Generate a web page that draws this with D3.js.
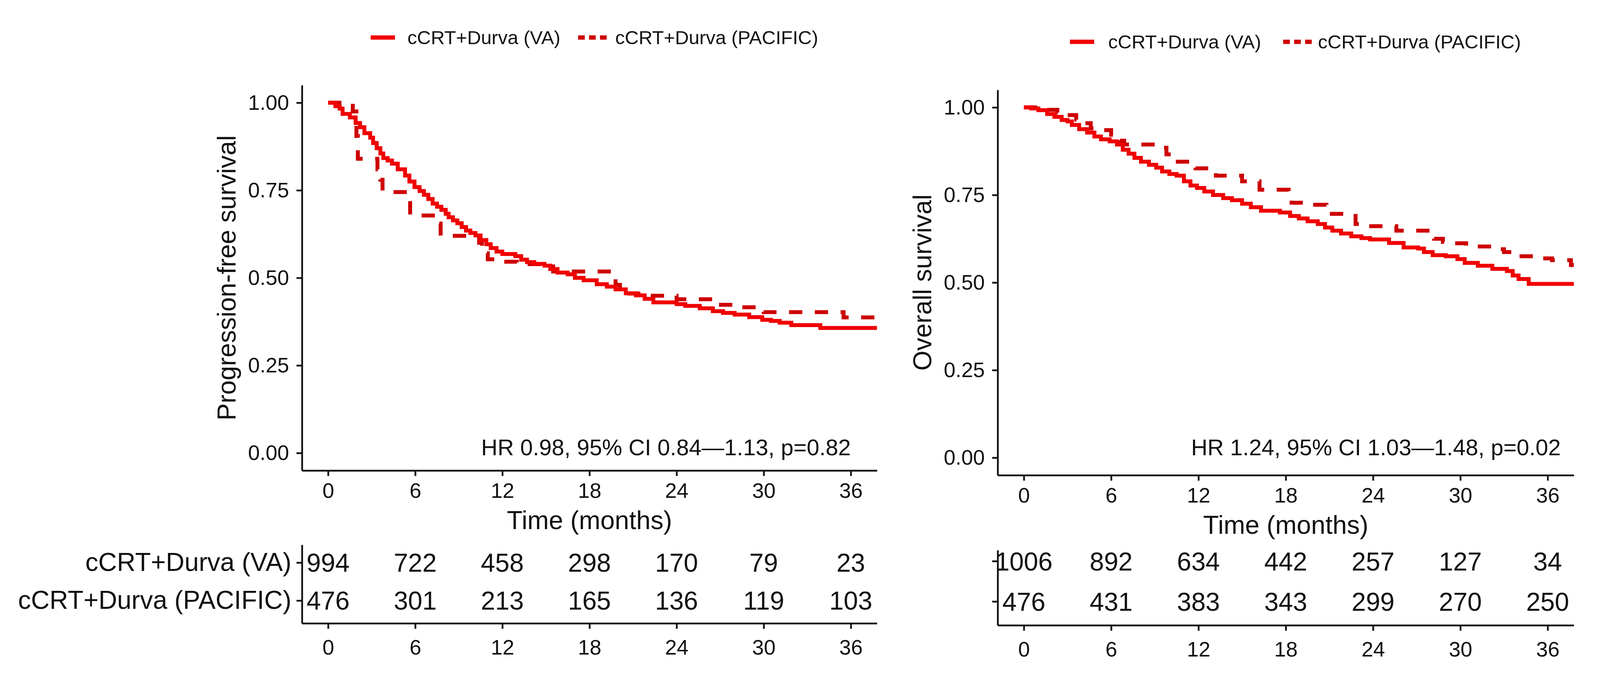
<!DOCTYPE html>
<html lang="en">
<head>
<meta charset="UTF-8">
<title>KM curves</title>
<script src="https://cdn.jsdelivr.net/npm/d3@7"></script>
<style>
  body { margin: 0; background: #fff; }
  svg text { font-family: "Liberation Sans", Arial, sans-serif; fill: #111; }
  .axis path, .axis line { stroke: #111; stroke-width: 4.5; fill: none; }
</style>
</head>
<body>
<script>
// time ticks and survival ticks
var months = [0, 6, 12, 18, 24, 30, 36];
var yTicks = [0, 0.25, 0.5, 0.75, 1];
var groups = ["cCRT+Durva (VA)", "cCRT+Durva (PACIFIC)"];

// progression-free survival, [month, survival]
var pfsVA = [[0,1],[0.5,0.99],[0.8,0.983],[1.0,0.968],[1.5,0.958],[1.9,0.942],[2.2,0.93],[2.5,0.913],[2.9,0.9],[3.1,0.885],[3.35,0.87],[3.6,0.855],[3.8,0.842],[4.1,0.835],[4.4,0.826],[4.8,0.81],[5.3,0.792],[5.6,0.775],[5.95,0.759],[6.3,0.748],[6.6,0.737],[6.9,0.725],[7.2,0.712],[7.5,0.703],[7.8,0.694],[8.1,0.683],[8.3,0.673],[8.6,0.664],[8.9,0.656],[9.2,0.645],[9.5,0.635],[9.8,0.628],[10.15,0.621],[10.5,0.608],[10.9,0.596],[11.2,0.585],[11.6,0.575],[12.0,0.568],[12.9,0.562],[13.3,0.552],[13.7,0.545],[14.2,0.54],[14.9,0.535],[15.3,0.525],[15.8,0.515],[16.5,0.51],[17.0,0.5],[17.6,0.493],[18.5,0.482],[19.2,0.475],[19.8,0.467],[20.5,0.456],[21.2,0.45],[21.8,0.44],[22.4,0.43],[24.0,0.425],[24.6,0.42],[25.6,0.413],[26.5,0.405],[27.2,0.4],[28.0,0.395],[29.0,0.388],[29.9,0.38],[30.5,0.377],[31.1,0.372],[31.9,0.365],[33.9,0.357],[37.8,0.357]];
var pfsPacific = [[0,1],[1.7,0.975],[1.95,0.905],[2.05,0.84],[3.4,0.81],[3.6,0.78],[3.75,0.745],[5.55,0.72],[5.65,0.678],[7.5,0.655],[7.75,0.62],[10.4,0.6],[10.6,0.57],[11.0,0.553],[12.0,0.546],[13.0,0.539],[15.5,0.518],[19.8,0.48],[20.1,0.455],[22.0,0.449],[24.0,0.439],[26.5,0.423],[28.3,0.416],[30.0,0.402],[35.5,0.387],[37.8,0.387]];

// overall survival, [month, survival]
var osVA = [[0,1],[0.5,0.997],[1,0.992],[1.6,0.981],[2.1,0.973],[2.6,0.964],[3,0.96],[3.3,0.95],[3.8,0.938],[4.35,0.928],[4.85,0.917],[5.3,0.909],[5.9,0.903],[6.4,0.894],[6.8,0.879],[7.2,0.868],[7.6,0.856],[8.05,0.845],[8.6,0.836],[9.1,0.828],[9.5,0.817],[10,0.81],[10.5,0.805],[11,0.789],[11.45,0.777],[11.9,0.77],[12.4,0.76],[13,0.75],[13.7,0.741],[14.3,0.735],[15,0.725],[15.6,0.715],[16.3,0.705],[17.6,0.7],[18.3,0.69],[18.9,0.683],[19.5,0.675],[20.2,0.667],[20.7,0.657],[21.2,0.648],[21.8,0.64],[22.5,0.632],[23.2,0.627],[23.8,0.623],[25.1,0.613],[26.1,0.6],[27.1,0.597],[27.5,0.587],[28.1,0.578],[29.0,0.575],[29.8,0.567],[30.3,0.556],[31.2,0.548],[32.2,0.539],[33.2,0.533],[33.6,0.52],[34.0,0.51],[34.7,0.496],[37.8,0.496]];
var osPacific = [[0,1],[1.2,0.993],[2.3,0.985],[3.0,0.978],[3.6,0.965],[3.7,0.955],[4.6,0.94],[5.0,0.935],[6.0,0.922],[6.6,0.905],[6.9,0.894],[9.3,0.885],[9.8,0.866],[10.2,0.845],[11.8,0.826],[13.2,0.805],[15.0,0.789],[16.2,0.765],[18.2,0.751],[18.4,0.728],[19.4,0.722],[20.8,0.696],[22.8,0.667],[23.5,0.661],[25.6,0.648],[28.2,0.625],[28.8,0.616],[29.5,0.612],[30.4,0.603],[32.4,0.595],[33.0,0.587],[33.8,0.575],[35.6,0.569],[36.3,0.564],[37.6,0.55],[37.8,0.55]];

// numbers at risk at each tick month
var riskPfsVA = [994, 722, 458, 298, 170, 79, 23];
var riskPfsPacific = [476, 301, 213, 165, 136, 119, 103];
var riskOsVA = [1006, 892, 634, 442, 257, 127, 34];
var riskOsPacific = [476, 431, 383, 343, 299, 270, 250];

var yTitles = ["Progression-free survival", "Overall survival"];
var hrTexts = ["HR 0.98, 95% CI 0.84\u20141.13, p=0.82", "HR 1.24, 95% CI 1.03\u20141.48, p=0.02"];
var hrAt = [36, 36.9];

var width = 4100, height = 1735;
var RED = "#f00000", RED_D = "#cd0000";

var svg = d3.select("body").append("svg")
  .attr("width", width).attr("height", height);

var panels = [
  {x0: 773, x1: 2245, top: 218, bot: 1204, rTop: 1394, rBot: 1595, rDom: [0.4, 2.47],
   legY: 96, keys: [949, 1480], texts: [1043, 1575], titleX: 603, hrY: 1165,
   curves: [pfsVA, pfsPacific], risk: [riskPfsVA, riskPfsPacific], rowLabels: true},
  {x0: 2554, x1: 4029, top: 230, bot: 1216, rTop: 1408, rBot: 1600, rDom: [0.41, 2.27],
   legY: 107, keys: [2739, 3285], texts: [2837, 3374], titleX: 2384, hrY: 1165,
   curves: [osVA, osPacific], risk: [riskOsVA, riskOsPacific], rowLabels: false}
];

panels.forEach(function(p, k) {
  var x = d3.scaleLinear().domain([-1.8, 37.8]).range([p.x0, p.x1]);
  var y = d3.scaleLinear().domain([-0.05, 1.05]).range([p.bot, p.top]);
  var g = svg.append("g");

  // survival curves
  var line = d3.line()
    .x(function(d){ return x(d[0]); })
    .y(function(d){ return y(d[1]); })
    .curve(d3.curveStepAfter);
  g.append("path").datum(p.curves[1])
    .attr("d", line).attr("fill", "none")
    .attr("stroke", RED_D).attr("stroke-width", 10)
    .attr("stroke-dasharray", "34,32");
  g.append("path").datum(p.curves[0])
    .attr("d", line).attr("fill", "none")
    .attr("stroke", RED).attr("stroke-width", 10);

  // axes
  g.append("g").attr("class", "axis")
    .attr("transform", "translate(" + p.x0 + ",0)")
    .call(d3.axisLeft(y).tickValues(yTicks).tickFormat(d3.format(".2f"))
      .tickSize(14).tickSizeOuter(0).tickPadding(19));
  g.append("g").attr("class", "axis")
    .attr("transform", "translate(0," + p.bot + ")")
    .call(d3.axisBottom(x).tickValues(months)
      .tickSize(14).tickSizeOuter(0).tickPadding(18));
  g.selectAll(".axis text").style("font-size", "54px").attr("fill", "#111");

  // titles
  g.append("text")
    .attr("transform", "translate(" + p.titleX + "," + ((p.top + p.bot) / 2) + ") rotate(-90)")
    .attr("text-anchor", "middle").style("font-size", "66px")
    .text(yTitles[k]);
  g.append("text")
    .attr("x", x(18)).attr("y", p.bot + 150)
    .attr("text-anchor", "middle").style("font-size", "66px")
    .text("Time (months)");
  g.append("text")
    .attr("x", x(hrAt[k])).attr("y", p.hrY)
    .attr("text-anchor", "end").style("font-size", "58px")
    .text(hrTexts[k]);

  // legend
  groups.forEach(function(name, i) {
    g.append("line")
      .attr("x1", p.keys[i]).attr("x2", p.keys[i] + (i ? 73 : 62))
      .attr("y1", p.legY).attr("y2", p.legY)
      .attr("stroke", i ? RED_D : RED).attr("stroke-width", 11)
      .attr("stroke-dasharray", i ? "17,11" : null);
    g.append("text")
      .attr("x", p.texts[i]).attr("y", p.legY)
      .attr("dy", "0.35em").style("font-size", "49px")
      .text(name);
  });

  // risk table
  var ry = d3.scaleLinear().domain(p.rDom).range([p.rBot, p.rTop]);
  var rows = [2, 1];
  var ra = g.append("g").attr("class", "axis")
    .attr("transform", "translate(" + p.x0 + ",0)")
    .call(d3.axisLeft(ry).tickValues(rows)
      .tickFormat(function(d, i){ return p.rowLabels ? groups[i] : ""; })
      .tickSize(14).tickSizeOuter(0).tickPadding(13));
  ra.selectAll("text").style("font-size", "66px").attr("fill", "#111");
  var rb = g.append("g").attr("class", "axis")
    .attr("transform", "translate(0," + p.rBot + ")")
    .call(d3.axisBottom(x).tickValues(months)
      .tickSize(14).tickSizeOuter(0).tickPadding(28));
  rb.selectAll("text").style("font-size", "54px").attr("fill", "#111");

  p.risk.forEach(function(vals, i) {
    g.selectAll(null).data(vals).enter().append("text")
      .attr("x", function(d, j){ return x(months[j]); })
      .attr("y", ry(rows[i]))
      .attr("dy", "0.36em")
      .attr("text-anchor", "middle")
      .style("font-size", "66px")
      .text(function(d){ return d; });
  });
});
</script>
</body>
</html>
